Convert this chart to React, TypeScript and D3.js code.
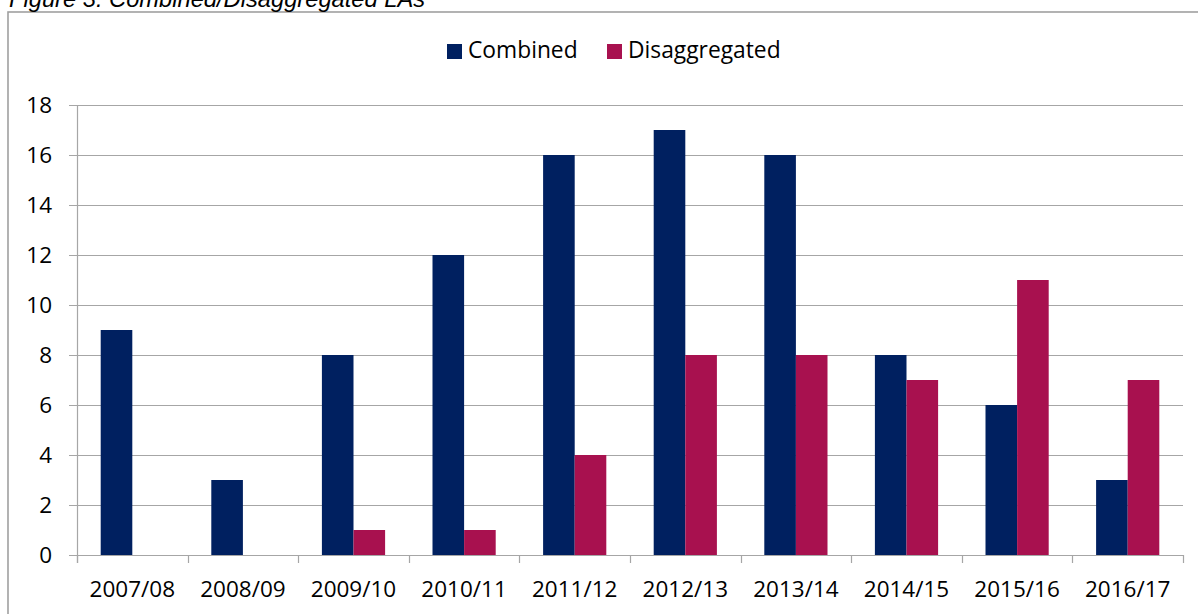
import React from "react";
import * as d3 from "d3";

const categories = ["2007/08", "2008/09", "2009/10", "2010/11", "2011/12", "2012/13", "2013/14", "2014/15", "2015/16", "2016/17"];
const combined = [9, 3, 8, 12, 16, 17, 16, 8, 6, 3];
const disaggregated = [0, 0, 1, 1, 4, 8, 8, 7, 11, 7];
const seriesNames = ["Combined", "Disaggregated"];
const seriesColors = ["#002060", "#A8114F"];
const yTicks = [0, 2, 4, 6, 8, 10, 12, 14, 16, 18];
const title = "Figure 3: Combined/Disaggregated LAs";

const W = 1198;
const H = 614;
const left = 77;
const right = 1183;
const top = 105;
const bottom = 555;
const FONT = "'Open Sans', Lato, sans-serif";
const FS = 22.5;
const GRID = "#a6a6a6";

export default function App() {
  const x = d3.scaleBand<string>().domain(categories).range([left, right]).paddingInner(3 / 7).paddingOuter(3 / 14);
  const xs = d3.scaleBand<string>().domain(seriesNames).range([0, x.bandwidth()]);
  const y = d3.scaleLinear().domain([0, 18]).range([bottom, top]);
  const step = x.step();
  const data = [combined, disaggregated];

  return (
    <svg width={W} height={H} style={{ position: "absolute", left: 0, top: 0, background: "#fff" }}>
      <rect x={8} y={12} width={1300} height={700} fill="#fff" stroke="#a0a0a0" strokeWidth={1.6} />
      <text x={9} y={6.5} fontFamily="'Liberation Sans', Arial, sans-serif" fontStyle="italic" fontSize={23.7} fill="#000">{title}</text>

      {yTicks.map((t) => (
        <line key={"g" + t} x1={69} x2={right} y1={Math.round(y(t)) + 0.5} y2={Math.round(y(t)) + 0.5} stroke={GRID} strokeWidth={1.2} />
      ))}
      <line x1={left + 0.5} x2={left + 0.5} y1={top} y2={bottom + 8} stroke={GRID} strokeWidth={1.2} />
      {yTicks.map((t) => (
        <text key={"yl" + t} x={52} y={y(t)} dy="0.36em" textAnchor="end" fontFamily={FONT} fontSize={FS} fill="#000">{t}</text>
      ))}

      {categories.map((c, i) => (
        <g key={c}>
          {seriesNames.map((s, j) => {
            const v = data[j][i];
            if (!v) return null;
            return (
              <rect key={s} x={(x(c) as number) + (xs(s) as number)} y={y(v)} width={xs.bandwidth()} height={y(0) - y(v)} fill={seriesColors[j]} />
            );
          })}
        </g>
      ))}

      {d3.range(categories.length + 1).map((i) => (
        <line key={"xt" + i} x1={Math.round(left + i * step) + 0.5} x2={Math.round(left + i * step) + 0.5} y1={bottom} y2={bottom + 8} stroke={GRID} strokeWidth={1.2} />
      ))}
      {categories.map((c) => (
        <text key={"xl" + c} x={(x(c) as number) + x.bandwidth() / 2} y={597} textAnchor="middle" fontFamily={FONT} fontSize={FS} fill="#000">{c}</text>
      ))}

      {seriesNames.map((s, j) => {
        const lx = j === 0 ? 447 : 607;
        return (
          <g key={"lg" + s}>
            <rect x={lx} y={44} width={15} height={15} fill={seriesColors[j]} />
            <text x={lx + 21} y={58} fontFamily={FONT} fontSize={22.8} fill="#000">{s}</text>
          </g>
        );
      })}
    </svg>
  );
}
